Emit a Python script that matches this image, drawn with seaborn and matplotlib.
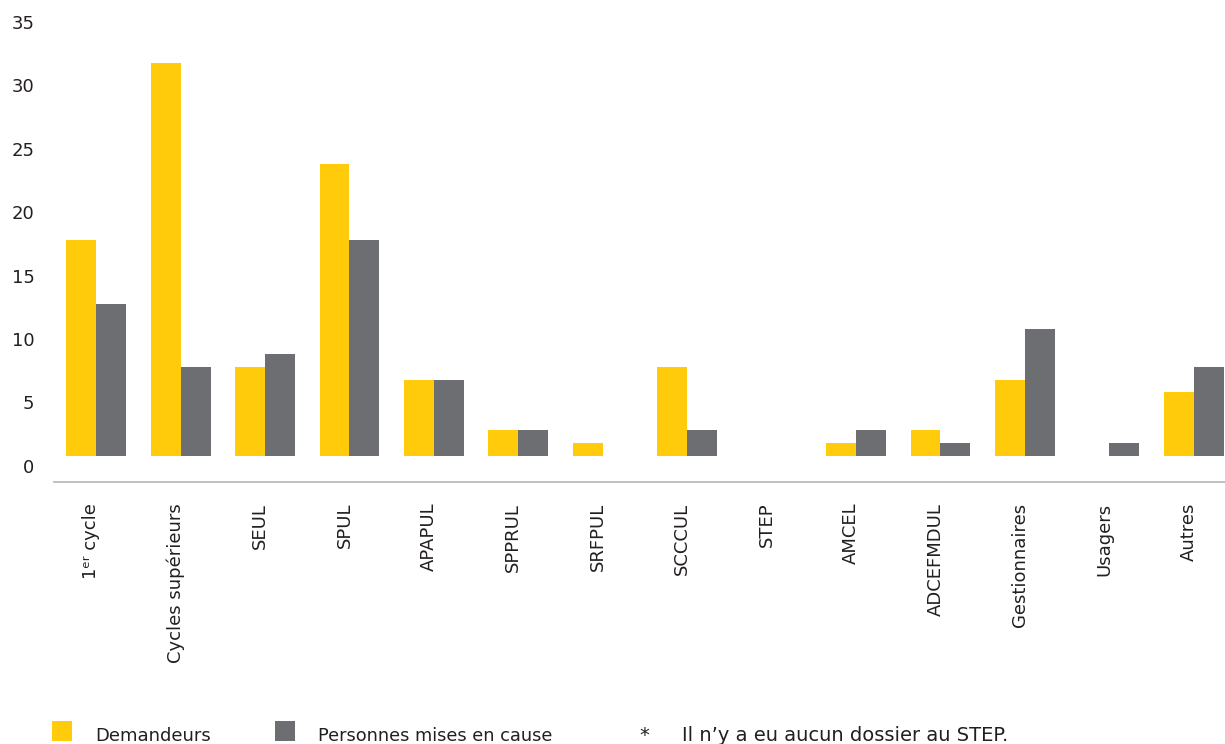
import matplotlib
matplotlib.use("Agg")
import matplotlib.pyplot as plt
import matplotlib.transforms as mtransforms
from matplotlib.patches import Rectangle
import seaborn as sns
import pandas as pd

categories = ["1ᵉʳ cycle", "Cycles supérieurs", "SEUL", "SPUL", "APAPUL", "SPPRUL",
              "SRFPUL", "SCCCUL", "STEP", "AMCEL", "ADCEFMDUL", "Gestionnaires",
              "Usagers", "Autres"]
demandeurs = [17, 31, 7, 23, 6, 2, 1, 7, 0, 1, 2, 6, 0, 5]
mises_en_cause = [12, 7, 8, 17, 6, 2, 0, 2, 0, 2, 1, 10, 1, 7]
series_names = ["Demandeurs", "Personnes mises en cause"]
y_ticks = [0, 5, 10, 15, 20, 25, 30, 35]
footnote = "Il n’y a eu aucun dossier au STEP."

YELLOW = "#FFCB0B"
GRAY = "#6D6E71"
TEXT = "#231F20"

df = pd.DataFrame({
    "categorie": categories * 2,
    "serie": [series_names[0]] * len(categories) + [series_names[1]] * len(categories),
    "valeur": demandeurs + mises_en_cause,
})

sns.set_theme(style="white")
plt.rcParams["font.family"] = ["DejaVu Sans"]

fig = plt.figure(figsize=(12.25, 7.44), dpi=100)
ax = fig.add_axes([54 / 1225, 1 - 482 / 744, 1 - 54 / 1225, (482 - 12) / 744])

sns.barplot(data=df, x="categorie", y="valeur", hue="serie", order=categories,
            hue_order=series_names, palette=[YELLOW, GRAY], width=0.71,
            errorbar=None, linewidth=0, legend=False, ax=ax, saturation=1)

ax.set_xlim(-0.5, 13.37)
ax.set_ylim(-2.08, 35)
ax.set_xlabel("")
ax.set_ylabel("")

for s in ["top", "right", "left"]:
    ax.spines[s].set_visible(False)
ax.spines["bottom"].set_color("#BBBBBB")
ax.spines["bottom"].set_linewidth(1.3)

ax.set_yticks(y_ticks)
ax.set_yticklabels([str(v) for v in y_ticks])
ax.tick_params(axis="y", length=0, pad=14, labelsize=13, labelcolor=TEXT)
offset = mtransforms.ScaledTranslation(0, -10 / 100, fig.dpi_scale_trans)
for lab in ax.get_yticklabels():
    lab.set_transform(lab.get_transform() + offset)

ax.set_xticks(range(len(categories)))
ax.set_xticklabels(categories, rotation=90, rotation_mode="anchor",
                   ha="right", va="baseline")
ax.tick_params(axis="x", length=0, pad=15, labelsize=13, labelcolor=TEXT)

# legend
W, H = 1225, 744
fig.patches.append(Rectangle((52 / W, 3 / H), 20 / W, 20 / H, transform=fig.transFigure,
                             facecolor=YELLOW, edgecolor="none"))
fig.patches.append(Rectangle((275 / W, 3 / H), 20 / W, 20 / H, transform=fig.transFigure,
                             facecolor=GRAY, edgecolor="none"))
fig.text(95 / W, 3 / H, series_names[0], fontsize=13, color=TEXT, va="baseline")
fig.text(318 / W, 3 / H, series_names[1], fontsize=12.8, color=TEXT, va="baseline")
fig.text(639 / W, 3 / H, "*", fontsize=14, color=TEXT, va="baseline")
fig.text(682 / W, 3 / H, footnote, fontsize=14, color=TEXT, va="baseline")

fig.savefig("out.png", dpi=100, facecolor="white")
